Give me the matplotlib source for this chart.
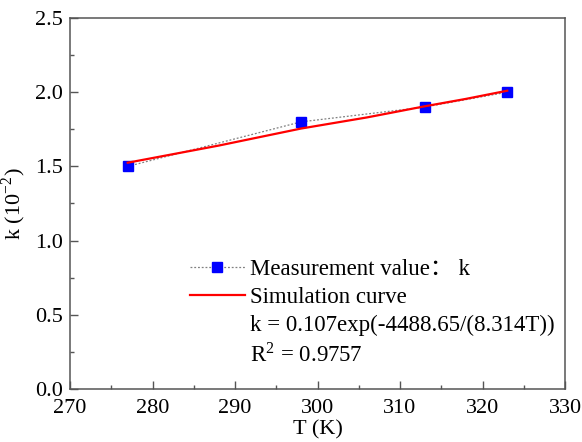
import numpy as np
import matplotlib.pyplot as plt
from matplotlib.lines import Line2D

# measured points
T_meas = [277, 298, 313, 323]
k_meas = [1.50, 1.80, 1.90, 2.00]

# simulation curve
T_sim = [277, 288, 298, 306, 313, 318, 323]
k_sim = [1.525, 1.64, 1.755, 1.83, 1.905, 1.955, 2.01]

x_ticks = [270, 280, 290, 300, 310, 320, 330]
y_ticks = [0.0, 0.5, 1.0, 1.5, 2.0, 2.5]

plt.rcParams['font.family'] = ['Liberation Serif', 'Noto Sans CJK SC']
plt.rcParams['mathtext.fontset'] = 'stix'

fig = plt.figure(figsize=(5.82, 4.42), dpi=100)
ax = fig.add_axes([0.1203, 0.1199, 0.8505, 0.8394])

ax.plot(T_meas, k_meas, linestyle=(0, (1.5, 1.5)), color='#808080', lw=0.9,
        marker='s', ms=7, mfc='#0000ff', mec='#0000ff', zorder=2)
ax.plot(T_sim, k_sim, color='#ff0000', lw=1.6, zorder=3)

ax.set_xlim(270, 330)
ax.set_ylim(0, 2.5)
ax.set_xticks(x_ticks)
ax.set_yticks(y_ticks)
ax.set_xticks(np.arange(275, 330, 10), minor=True)
ax.set_yticks(np.arange(0.25, 2.5, 0.5), minor=True)
ax.set_xticklabels([str(v) for v in x_ticks], family='Liberation Serif')
ax.set_yticklabels(['%.1f' % v for v in y_ticks], family='Liberation Serif')

ax.tick_params(which='both', direction='in', top=False, right=False,
               color='#555555', width=1, labelsize=16)
ax.tick_params(axis='x', pad=7)
ax.tick_params(axis='y', pad=5)
ax.tick_params(which='major', length=6)
ax.tick_params(which='minor', length=3)
for s in ax.spines.values():
    s.set_color('#555555')
    s.set_linewidth(1.1)

ax.set_xlabel('T (K)', fontsize=16, labelpad=2)
ax.set_ylabel(r'k (10$^{\mathregular{-2}}$)', fontsize=16, labelpad=5)

handles = [
    Line2D([], [], linestyle=(0, (1.5, 1.5)), color='#808080', lw=0.9,
           marker='s', ms=7, mfc='#0000ff', mec='#0000ff'),
    Line2D([], [], color='#ff0000', lw=1.6),
    Line2D([], [], color='none'),
    Line2D([], [], color='none'),
]
labels = [
    'Measurement value\uff1a k',
    'Simulation curve',
    'k = 0.107exp(-4488.65/(8.314T))',
    r'R$^{\mathregular{2}}$ = 0.9757',
]
ax.legend(handles, labels, loc='lower left', bbox_to_anchor=(0.242, 0.06),
          frameon=False, fontsize=16.5, handlelength=2.4, handletextpad=0.22,
          labelspacing=0.31, borderpad=0, borderaxespad=0)

fig.savefig('out.png', dpi=100)
